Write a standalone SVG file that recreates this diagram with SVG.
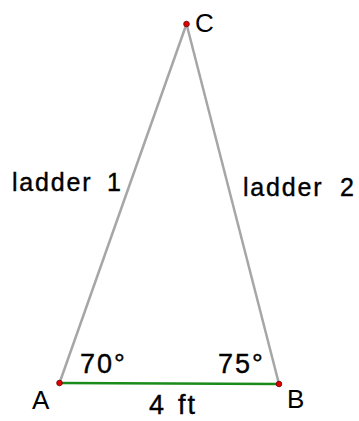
<svg xmlns="http://www.w3.org/2000/svg" width="359" height="421" viewBox="0 0 359 421">
<style>
.t{font-family:"Liberation Sans",Arial,sans-serif;fill:#000;stroke:#000;stroke-width:0.4}
.lad{font-size:25px;letter-spacing:1.8px}
.pt{font-size:26px;stroke-width:0}
.ang{font-size:27px;letter-spacing:2px}
.seg{stroke:#a6a6a6;stroke-width:2.5;fill:none}
.pnt{fill:#e00000;stroke:#600;stroke-width:0.8}
</style>
<rect width="359" height="421" fill="#fff"/>
<g id="connectors">
<line class="seg" x1="59.5" y1="383" x2="186.5" y2="24"/>
<line class="seg" x1="279" y1="384" x2="186.5" y2="24"/>
<line x1="59.5" y1="383" x2="279" y2="384" stroke="#1a8a1a" stroke-width="2.5"/>
</g>
<g id="C"><circle class="pnt" cx="186.5" cy="24" r="2.8"/><text class="t pt" x="195" y="32">C</text></g>
<g id="A"><circle class="pnt" cx="59.5" cy="383" r="2.8"/><text class="t pt" x="32" y="409">A</text></g>
<g id="B"><circle class="pnt" cx="279" cy="384" r="2.8"/><text class="t pt" x="287" y="408">B</text></g>
<g id="labels">
<text class="t lad" x="12" y="191">ladder<tspan x="107">1</tspan></text>
<text class="t lad" x="243" y="196">ladder<tspan x="340">2</tspan></text>
<text class="t ang" x="80" y="373">70°</text>
<text class="t ang" x="218" y="373">75°</text>
<text class="t ang" x="149" y="414" font-size="26">4<tspan x="178">ft</tspan></text>
</g>
</svg>
